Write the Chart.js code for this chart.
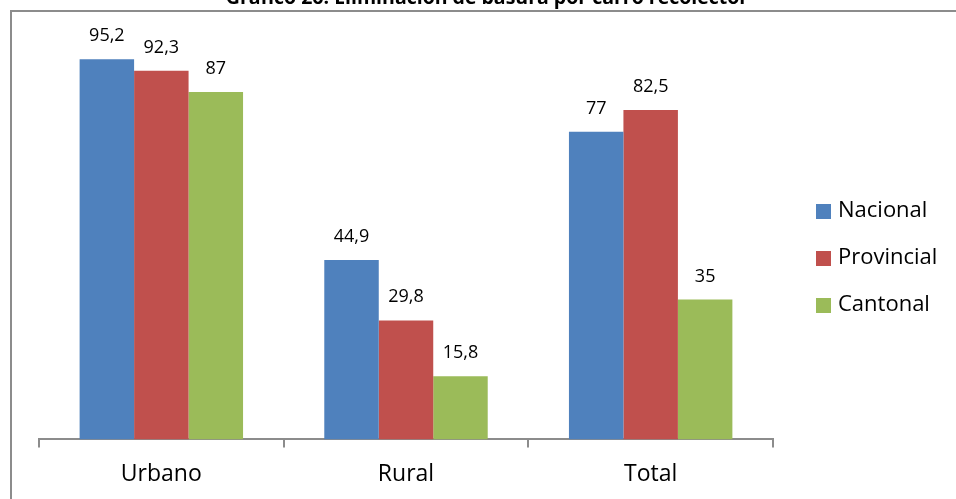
<!DOCTYPE html>
<html>
<head>
<meta charset="utf-8">
<script src="https://cdn.jsdelivr.net/npm/chart.js@4.4.1/dist/chart.umd.min.js"></script>
<style>
  body { margin: 0; background: #fff; }
  canvas { display: block; }
</style>
</head>
<body>
<canvas id="chart"></canvas>
<script>
const titleText = 'Gráfico 26: Eliminación de basura por carro recolector';
const categories = ['Urbano', 'Rural', 'Total'];
const nacional = [95.2, 44.9, 77];
const provincial = [92.3, 29.8, 82.5];
const cantonal = [87, 15.8, 35];
const seriesNames = ['Nacional', 'Provincial', 'Cantonal'];
const seriesColors = ['#4F81BD', '#C0504D', '#9BBB59'];

const FONT = 'Open Sans';

// frame lines and the clipped heading at the top edge
const framePlugin = {
    id: 'frame',
    beforeDraw(chart) {
        const c = chart.ctx;
        c.save();
        c.fillStyle = '#fff';
        c.fillRect(0, 0, chart.width, chart.height);
        c.strokeStyle = '#8c8c8c';
        c.lineWidth = 2;
        c.beginPath();
        c.moveTo(chart.width, 11);
        c.lineTo(11, 11);
        c.lineTo(11, chart.height);
        c.stroke();
        c.fillStyle = '#000';
        c.font = 'bold 19.5px ' + FONT;
        c.textAlign = 'center';
        c.textBaseline = 'alphabetic';
        c.fillText(titleText, 487, 4);
        c.restore();
    }
};

// numbers above the bars, decimal comma
const valueLabels = {
    id: 'valueLabels',
    afterDatasetsDraw(chart) {
        const c = chart.ctx;
        c.save();
        c.fillStyle = '#000';
        c.font = '18px ' + FONT;
        c.textAlign = 'center';
        c.textBaseline = 'alphabetic';
        chart.data.datasets.forEach((ds, i) => {
            chart.getDatasetMeta(i).data.forEach((bar, j) => {
                const txt = String(ds.data[j]).replace('.', ',');
                c.fillText(txt, bar.x, bar.y - 18);
            });
        });
        c.restore();
    }
};

// legend on the right, drawn by hand
const sideLegend = {
    id: 'sideLegend',
    afterDraw(chart) {
        const c = chart.ctx;
        c.save();
        c.font = '22px ' + FONT;
        c.textBaseline = 'middle';
        c.textAlign = 'left';
        chart.data.datasets.forEach((ds, i) => {
            const y = 211 + i * 47;
            c.fillStyle = ds.backgroundColor;
            c.fillRect(816, y - 7, 15, 15);
            c.fillStyle = '#000';
            c.fillText(ds.label, 838, y);
        });
        c.restore();
    }
};

const ctx = document.querySelector('#chart').getContext('2d');
ctx.canvas.width = 956;
ctx.canvas.height = 499;

const chart = new Chart(ctx, {
    type: 'bar',
    data: {
        labels: categories,
        datasets: [nacional, provincial, cantonal].map((vals, i) => ({
            label: seriesNames[i],
            data: vals,
            backgroundColor: seriesColors[i],
            borderWidth: 0,
            barPercentage: 1,
            categoryPercentage: 0.668
        }))
    },
    options: {
        responsive: false,
        animation: false,
        layout: { padding: { left: 39, right: 183, top: 40, bottom: -2 } },
        plugins: {
            legend: { display: false },
            tooltip: { enabled: false }
        },
        scales: {
            x: {
                grid: {
                    display: true,
                    drawOnChartArea: false,
                    drawTicks: true,
                    tickLength: 8,
                    color: '#8c8c8c',
                    lineWidth: 2,
                    offset: true
                },
                border: { display: true, color: '#8c8c8c', width: 2 },
                ticks: {
                    color: '#000',
                    padding: 13,
                    font: { family: FONT, size: 23 }
                }
            },
            y: {
                display: false,
                min: 0,
                max: 100
            }
        }
    },
    plugins: [framePlugin, valueLabels, sideLegend]
});
</script>
</body>
</html>
